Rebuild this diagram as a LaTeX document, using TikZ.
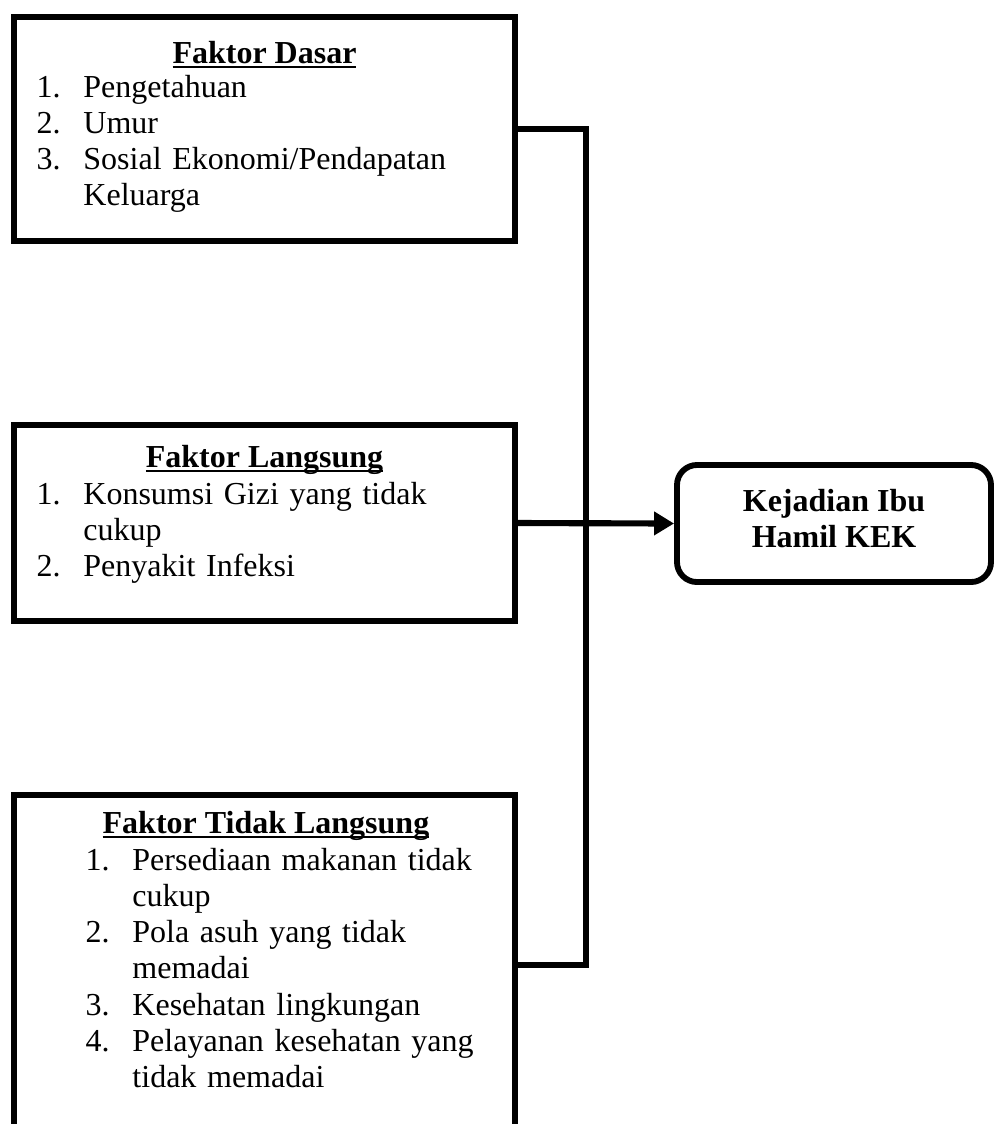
\documentclass[tikz,border=0pt]{standalone}
\usepackage{fontspec}
\setmainfont{Liberation Serif}
\usetikzlibrary{arrows.meta}

\newsavebox{\simpanjudul}
\newcommand{\garisbawah}[1]{\sbox{\simpanjudul}{#1}\rlap{\rule[-1.9pt]{\wd\simpanjudul}{0.8pt}}\usebox{\simpanjudul}}
\newcommand{\nomor}[1]{\makebox[17.6pt][l]{#1}}
\newcommand{\lanjut}{\hspace*{17.6pt}}

\tikzset{
  kotak/.style={draw, line width=2.2pt, outer sep=0pt, inner sep=0pt, anchor=north west},
  judul/.style={font=\fontsize{12pt}{13.6pt}\selectfont\bfseries, anchor=base, inner sep=0pt},
  daftar/.style={font=\fontsize{12pt}{13.6pt}\selectfont, anchor=base west, inner sep=0pt, text width=170pt, align=left},
  garis/.style={line width=2.3pt},
}

\begin{document}
\begin{tikzpicture}[x=0.375pt, y=-0.375pt]
    \useasboundingbox (0,0) rectangle (994,1124);
    \clip (0,0) rectangle (994,1124);
    % kotak faktor
    \node[kotak, minimum width=187.9pt, minimum height=84pt] (dasar) at (14,17) {};
    \node[kotak, minimum width=187.9pt, minimum height=73.5pt] (langsung) at (14,425) {};
    \node[kotak, minimum width=187.9pt, minimum height=127.5pt] (tidak) at (14,795) {};
    \node[draw, line width=2.2pt, rounded corners=7.5pt, minimum width=117.75pt, minimum height=43.9pt,
      align=center, font=\fontsize{12pt}{13.6pt}\selectfont\bfseries] (hasil) at (834,523.5) {Kejadian Ibu\\Hamil KEK\strut};
    % isi kotak
    \node[judul] (judulDasar) at (264.5,63) {\garisbawah{Faktor Dasar}};
    \node[daftar] (isiDasar) at (36,97) {\nomor{1.}Pengetahuan\\ \nomor{2.}Umur\\ \nomor{3.}Sosial Ekonomi/Pendapatan\\ \lanjut Keluarga};
    \node[judul] (judulLangsung) at (264.5,467) {\garisbawah{Faktor Langsung}};
    \node[daftar] (isiLangsung) at (36,504) {\nomor{1.}Konsumsi Gizi yang tidak\\ \lanjut cukup\\ \nomor{2.}Penyakit Infeksi};
    \node[judul] (judulTidak) at (266,833) {\garisbawah{Faktor Tidak Langsung}};
    \node[daftar] (isiTidak) at (85,870) {\nomor{1.}Persediaan makanan tidak\\ \lanjut cukup\\ \nomor{2.}Pola asuh yang tidak\\ \lanjut memadai\\ \nomor{3.}Kesehatan lingkungan\\ \nomor{4.}Pelayanan kesehatan yang\\ \lanjut tidak memadai};
    % garis penghubung
    \coordinate (cabang) at (586,523.5);
    \draw[garis] (dasar.east) -| (cabang) |- (tidak.east);
    \draw[garis, -{Triangle[length=7.5pt, width=8.5pt]}] (langsung.east) -- (hasil.west);
\end{tikzpicture}
\end{document}
